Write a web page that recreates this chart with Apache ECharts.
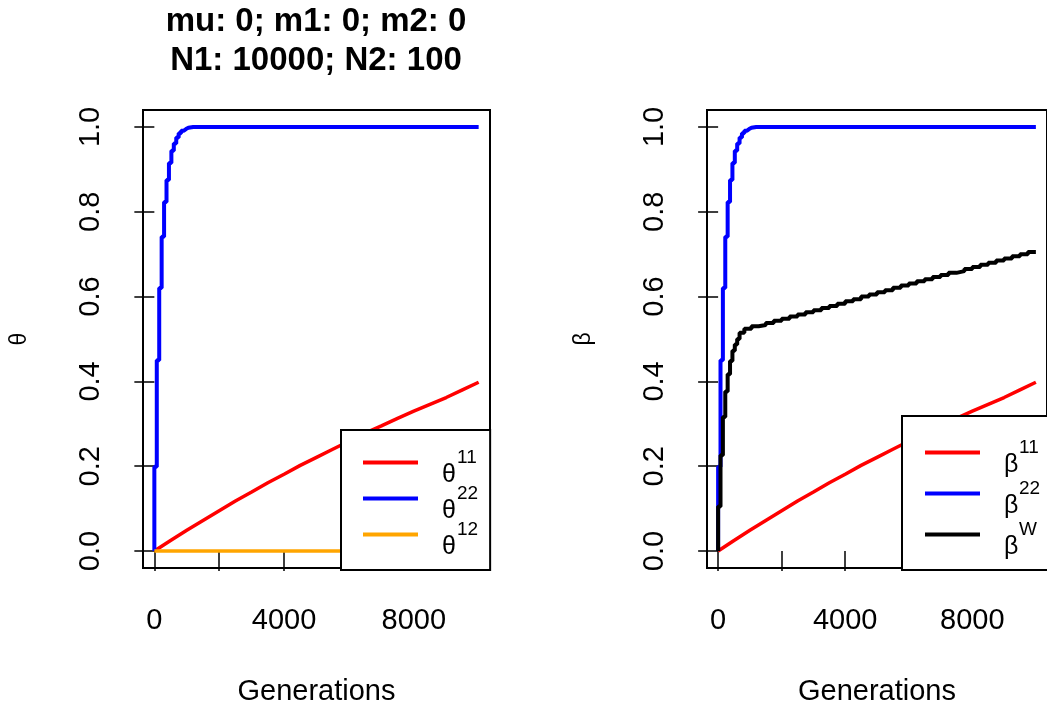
<!DOCTYPE html>
<html>
<head>
<meta charset="utf-8">
<script src="https://cdn.jsdelivr.net/npm/echarts@6/dist/echarts.min.js"></script>
<style>
  html, body { margin: 0; padding: 0; background: #fff; }
  #chart { width: 1047px; height: 711px; }
</style>
</head>
<body>
<div id="chart"></div>
<script>
// Identity-by-descent trajectories, two populations (N1 = 10000, N2 = 100)
const titleLines = ['mu: 0; m1: 0; m2: 0', 'N1: 10000; N2: 100'];
const xTicks = [0, 2000, 4000, 6000, 8000, 10000];
const xTickLabels = [0, 4000, 8000];
const yTicks = [0, 0.2, 0.4, 0.6, 0.8, 1.0];

// slow drift in the large population (sampled every 500 generations)
const genLarge = [0, 500, 1000, 1500, 2000, 2500, 3000, 3500, 4000, 4500, 5000,
                  5500, 6000, 6500, 7000, 7500, 8000, 8500, 9000, 9500, 10000];
const theta11 = [0, 0.025, 0.049, 0.072, 0.095, 0.118, 0.139, 0.161, 0.181, 0.202, 0.221,
                 0.240, 0.259, 0.278, 0.295, 0.313, 0.330, 0.346, 0.362, 0.380, 0.398];
const beta11 = [0, 0.025, 0.049, 0.072, 0.095, 0.118, 0.139, 0.161, 0.181, 0.202, 0.221,
                0.240, 0.259, 0.278, 0.295, 0.313, 0.330, 0.346, 0.362, 0.380, 0.398];

// fast fixation in the small population (recorded in steps)
const genSmall = [0, 75, 150, 225, 300, 375, 450, 525, 600, 675, 750, 825, 900, 975, 1050, 1200, 10000];
const theta22 = [0, 0.199, 0.450, 0.620, 0.741, 0.823, 0.875, 0.915, 0.944, 0.961, 0.975,
                 0.985, 0.991, 0.995, 0.998, 1.0, 1.0];
const beta22 = [0, 0.199, 0.450, 0.620, 0.741, 0.823, 0.875, 0.915, 0.944, 0.961, 0.975,
                0.985, 0.991, 0.995, 0.998, 1.0, 1.0];

// between-population identity stays at zero (no migration)
const genBetween = [0, 10000];
const theta12 = [0, 0];

// combined measure
const genW = [0, 75, 150, 225, 300, 375, 450, 525, 600, 675, 825, 1050, 1275,
              1500, 1750, 2000, 2250, 2500, 2750, 3000, 3250, 3500, 3750, 4000,
              4250, 4500, 4750, 5000, 5250, 5500, 5750, 6000, 6250, 6500, 6750,
              7000, 7250, 7500, 7750, 8000, 8250, 8500, 8750, 9000, 9250, 9500, 9750, 10000];
const betaW = [0, 0.105, 0.226, 0.316, 0.376, 0.417, 0.448, 0.472, 0.487, 0.500, 0.515, 0.524, 0.530,
               0.533, 0.538, 0.543, 0.548, 0.553, 0.558, 0.563, 0.568, 0.573, 0.578, 0.583,
               0.589, 0.594, 0.600, 0.605, 0.610, 0.615, 0.621, 0.626, 0.631, 0.636, 0.641,
               0.646, 0.651, 0.656, 0.660, 0.665, 0.670, 0.675, 0.680, 0.685, 0.690, 0.695, 0.700, 0.705];

const leftLegend = [
  { name: 'θ11', sym: 'θ', sup: '11' },
  { name: 'θ22', sym: 'θ', sup: '22' },
  { name: 'θ12', sym: 'θ', sup: '12' }
];
const rightLegend = [
  { name: 'β11', sym: 'β', sup: '11' },
  { name: 'β22', sym: 'β', sup: '22' },
  { name: 'βW', sym: 'β', sup: 'W' }
];

const FONT = '"Liberation Sans", Arial, sans-serif';
const pairs = (xs, ys) => xs.map((x, i) => [x, ys[i]]);

function xAxisFor(gi) {
  return {
    gridIndex: gi, type: 'value', min: -350, max: 10350,
    name: 'Generations', nameLocation: 'middle', nameGap: 109,
    nameTextStyle: { fontSize: 29, color: '#000', fontFamily: FONT },
    axisLine: { show: false },
    axisTick: { show: true, inside: false, length: 20, customValues: xTicks,
                lineStyle: { color: '#000', width: 1.5 } },
    axisLabel: { customValues: xTickLabels, fontSize: 29, color: '#000', fontFamily: FONT, margin: 38,
                 formatter: v => String(v) },
    splitLine: { show: false }
  };
}
function yAxisFor(gi, name) {
  return {
    gridIndex: gi, type: 'value', min: -0.04, max: 1.04,
    name: name, nameLocation: 'middle', nameGap: 112, nameRotate: 90,
    nameTextStyle: { fontSize: 23, color: '#000', fontFamily: FONT },
    axisLine: { show: false },
    axisTick: { show: true, inside: false, length: 20, customValues: yTicks,
                lineStyle: { color: '#000', width: 1.5 } },
    axisLabel: { customValues: yTicks, rotate: 90, fontSize: 29, color: '#000', fontFamily: FONT,
                 margin: 38, formatter: v => v.toFixed(1) },
    splitLine: { show: false }
  };
}
function lineSeries(name, gi, data, color, width, step) {
  return {
    name: name, type: 'line', xAxisIndex: gi, yAxisIndex: gi,
    data: data, step: step || false, showSymbol: false, symbol: 'none',
    itemStyle: { color: color }, lineStyle: { color: color, width: width },
    emphasis: { disabled: true }, animation: false
  };
}
// superscript on its own upper line, the Greek letter on the lower line
function legendFor(items, left, top, gap, pad) {
  const lookup = {};
  items.forEach(it => { lookup[it.name] = it; });
  return {
    data: items.map(it => it.name), orient: 'vertical', left: left, top: top,
    itemGap: gap, itemWidth: 55, itemHeight: 4, icon: 'rect',
    padding: pad, backgroundColor: '#fff', borderColor: '#000', borderWidth: 2,
    borderRadius: 0, selectedMode: false,
    formatter: n => '{s|' + lookup[n].sup + '}\n{g|' + lookup[n].sym + '}',
    textStyle: {
      color: '#000', fontFamily: FONT,
      rich: {
        s: { fontSize: 19, lineHeight: 26, padding: [0, 0, 0, 34], fontFamily: FONT, color: '#000' },
        g: { fontSize: 25, lineHeight: 10, padding: [0, 0, 0, 19], fontFamily: FONT, color: '#000' }
      }
    }
  };
}

const chart = echarts.init(document.getElementById('chart'), null, { renderer: 'canvas' });
chart.setOption({
  backgroundColor: '#fff',
  animation: false,
  title: {
    text: titleLines.join('\n'), left: 316, top: 2, textAlign: 'center', padding: 0,
    textStyle: { fontSize: 33, fontWeight: 'bold', lineHeight: 39, color: '#000', fontFamily: FONT }
  },
  grid: [
    { left: 143, top: 110, width: 347, height: 460, show: true, borderColor: '#000', borderWidth: 2, backgroundColor: 'transparent' },
    { left: 707, top: 110, width: 347, height: 460, show: true, borderColor: '#000', borderWidth: 2, backgroundColor: 'transparent' }
  ],
  xAxis: [xAxisFor(0), xAxisFor(1)],
  yAxis: [yAxisFor(0, 'θ'), yAxisFor(1, 'β')],
  legend: [
    legendFor(leftLegend, 341, 430, -4, [18, 12, 10, 22]),
    legendFor(rightLegend, 902, 416, 1, [22, 12, 10, 23])
  ],
  series: [
    lineSeries('θ11', 0, pairs(genLarge, theta11), '#ff0000', 3.5),
    lineSeries('θ22', 0, pairs(genSmall, theta22), '#0000ff', 4, 'start'),
    lineSeries('θ12', 0, pairs(genBetween, theta12), '#ffa500', 3.5),
    lineSeries('β11', 1, pairs(genLarge, beta11), '#ff0000', 3.5),
    lineSeries('β22', 1, pairs(genSmall, beta22), '#0000ff', 4, 'start'),
    lineSeries('βW', 1, pairs(genW, betaW), '#000000', 4, 'start')
  ]
});
</script>
</body>
</html>
